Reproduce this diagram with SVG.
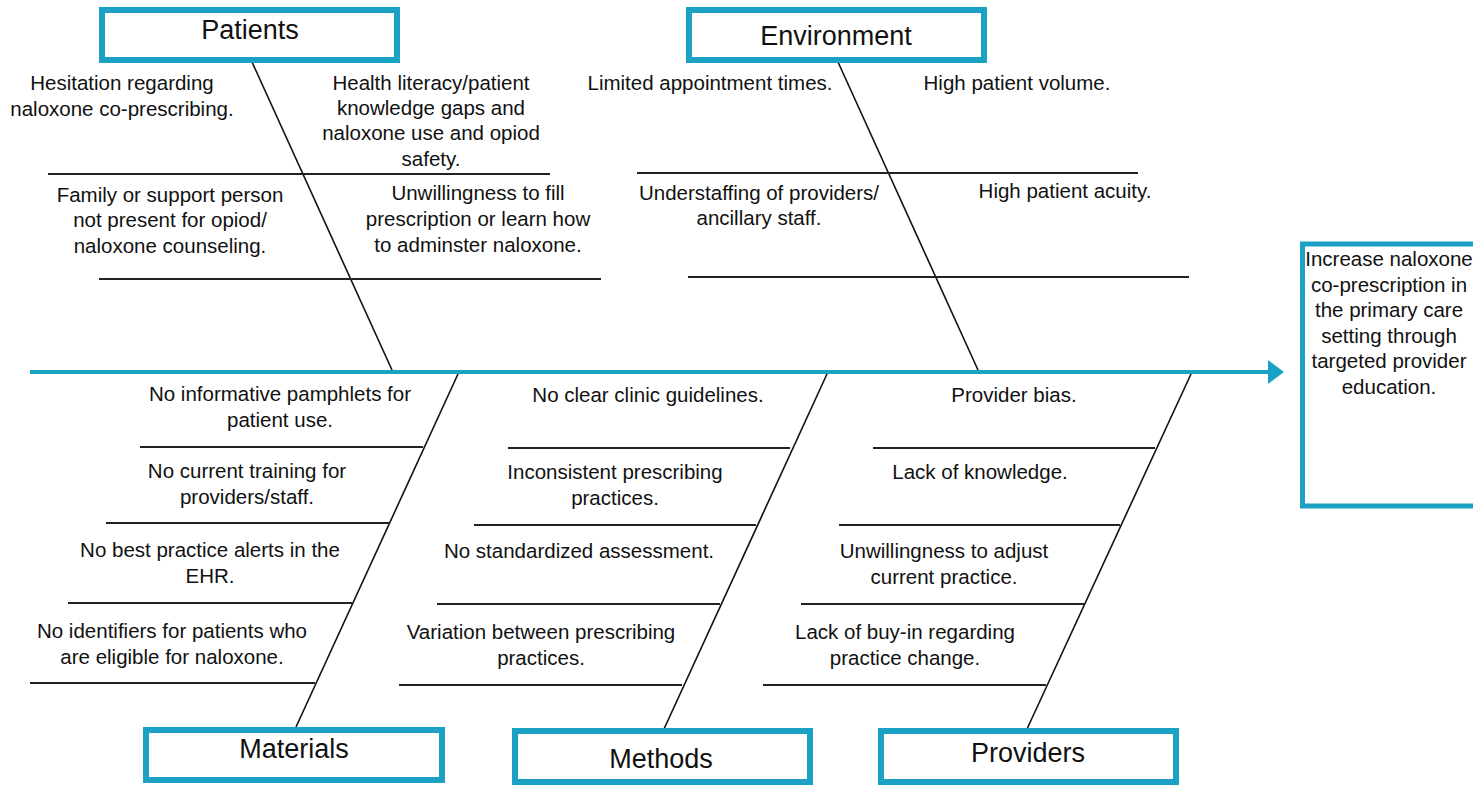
<svg xmlns="http://www.w3.org/2000/svg" width="1473" height="785" viewBox="0 0 1473 785">
<style>
.box{fill:#fff;stroke:#1ba1c4;stroke-width:6}
.title{font-family:"Liberation Sans",Arial,sans-serif;font-size:27px;fill:#111;text-anchor:middle}
.t{font-family:"Liberation Sans",Arial,sans-serif;font-size:20.5px;fill:#111;text-anchor:middle}
.bone{stroke:#111;stroke-width:1.6;fill:none}
.h{stroke:#222;stroke-width:2;fill:none}
.spine{stroke:#1ba1c4;stroke-width:4;fill:none}
</style>
<defs>
<marker id="ah" markerWidth="4" markerHeight="6" refX="0" refY="3" orient="auto" markerUnits="strokeWidth">
<path d="M0,0 L4,3 L0,6 Z" fill="#1ba1c4"/>
</marker>
</defs>
<rect width="1473" height="785" fill="#fff"/>
<g id="connectors">
<line class="spine" x1="30" y1="372" x2="1268" y2="372" marker-end="url(#ah)"/>
<line class="bone" x1="252" y1="62" x2="392" y2="370"/>
<line class="bone" x1="838" y1="62" x2="978" y2="370"/>
<line class="bone" x1="458" y1="374" x2="296" y2="727"/>
<line class="bone" x1="827" y1="374" x2="664" y2="729"/>
<line class="bone" x1="1191" y1="374" x2="1027" y2="729"/>
<line class="h" x1="48" y1="174" x2="550" y2="174"/>
<line class="h" x1="99" y1="279" x2="601" y2="279"/>
<line class="h" x1="637" y1="173" x2="1138" y2="173"/>
<line class="h" x1="688" y1="277" x2="1189" y2="277"/>
<line class="h" x1="140" y1="447" x2="423" y2="447"/>
<line class="h" x1="106" y1="523" x2="390" y2="523"/>
<line class="h" x1="68" y1="603" x2="352" y2="603"/>
<line class="h" x1="30" y1="683" x2="315" y2="683"/>
<line class="h" x1="508" y1="448" x2="790" y2="448"/>
<line class="h" x1="474" y1="525" x2="756" y2="525"/>
<line class="h" x1="437" y1="604" x2="720" y2="604"/>
<line class="h" x1="399" y1="685" x2="682" y2="685"/>
<line class="h" x1="873" y1="448" x2="1155" y2="448"/>
<line class="h" x1="839" y1="525" x2="1120" y2="525"/>
<line class="h" x1="801" y1="604" x2="1084" y2="604"/>
<line class="h" x1="763" y1="685" x2="1046" y2="685"/>
</g>
<g id="patients">
<rect class="box" x="102" y="10" width="295" height="50"/>
<text class="title" x="250" y="39">Patients</text>
<text class="t" x="122" y="90">Hesitation regarding</text>
<text class="t" x="122" y="116">naloxone co-prescribing.</text>
<text class="t" x="431" y="90">Health literacy/patient</text>
<text class="t" x="431" y="115">knowledge gaps and</text>
<text class="t" x="431" y="140">naloxone use and opiod</text>
<text class="t" x="431" y="166">safety.</text>
<text class="t" x="170" y="202">Family or support person</text>
<text class="t" x="170" y="227">not present for opiod/</text>
<text class="t" x="170" y="253">naloxone counseling.</text>
<text class="t" x="478" y="200">Unwillingness to fill</text>
<text class="t" x="478" y="226">prescription or learn how</text>
<text class="t" x="478" y="252">to adminster naloxone.</text>
</g>
<g id="environment">
<rect class="box" x="689" y="10" width="295" height="50"/>
<text class="title" x="836" y="45">Environment</text>
<text class="t" x="710" y="90">Limited appointment times.</text>
<text class="t" x="1017" y="90">High patient volume.</text>
<text class="t" x="759" y="200">Understaffing of providers/</text>
<text class="t" x="759" y="225">ancillary staff.</text>
<text class="t" x="1065" y="198">High patient acuity.</text>
</g>
<g id="materials">
<rect class="box" x="146" y="730" width="296" height="50"/>
<text class="title" x="294" y="758">Materials</text>
<text class="t" x="280" y="401">No informative pamphlets for</text>
<text class="t" x="280" y="427">patient use.</text>
<text class="t" x="247" y="478">No current training for</text>
<text class="t" x="247" y="504">providers/staff.</text>
<text class="t" x="210" y="557">No best practice alerts in the</text>
<text class="t" x="210" y="583">EHR.</text>
<text class="t" x="172" y="638">No identifiers for patients who</text>
<text class="t" x="172" y="664">are eligible for naloxone.</text>
</g>
<g id="methods">
<rect class="box" x="515" y="731" width="295" height="51"/>
<text class="title" x="661" y="768">Methods</text>
<text class="t" x="648" y="402">No clear clinic guidelines.</text>
<text class="t" x="615" y="479">Inconsistent prescribing</text>
<text class="t" x="615" y="505">practices.</text>
<text class="t" x="579" y="558">No standardized assessment.</text>
<text class="t" x="541" y="639">Variation between prescribing</text>
<text class="t" x="541" y="665">practices.</text>
</g>
<g id="providers">
<rect class="box" x="881" y="731" width="295" height="51"/>
<text class="title" x="1028" y="762">Providers</text>
<text class="t" x="1014" y="402">Provider bias.</text>
<text class="t" x="980" y="479">Lack of knowledge.</text>
<text class="t" x="944" y="558">Unwillingness to adjust</text>
<text class="t" x="944" y="584">current practice.</text>
<text class="t" x="905" y="639">Lack of buy-in regarding</text>
<text class="t" x="905" y="665">practice change.</text>
</g>
<g id="effect">
<rect class="box" x="1302.5" y="244" width="190" height="262" style="stroke-width:5"/>
<text class="t" x="1389" y="266">Increase naloxone</text>
<text class="t" x="1389" y="292">co-prescription in</text>
<text class="t" x="1389" y="317">the primary care</text>
<text class="t" x="1389" y="343">setting through</text>
<text class="t" x="1389" y="368">targeted provider</text>
<text class="t" x="1389" y="394">education.</text>
</g>
</svg>
